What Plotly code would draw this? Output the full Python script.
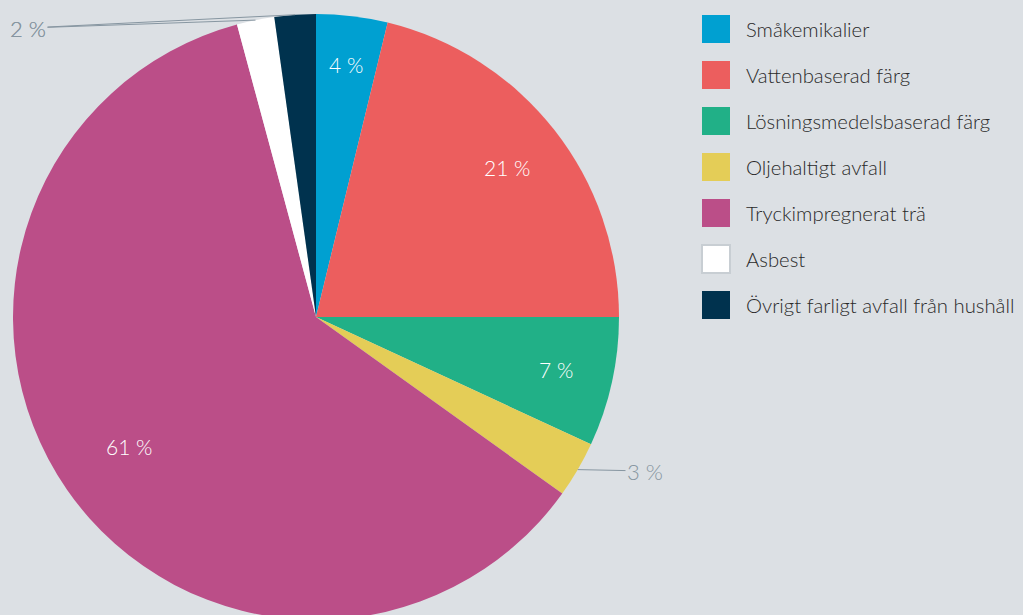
import math
import plotly.graph_objects as go

labels = ["Småkemikalier", "Vattenbaserad färg", "Lösningsmedelsbaserad färg",
          "Oljehaltigt avfall", "Tryckimpregnerat trä", "Asbest",
          "Övrigt farligt avfall från hushåll"]
values = [3.8, 21.2, 6.9, 3.0, 60.9, 2.0, 2.2]
value_labels = ["4 %", "21 %", "7 %", "3 %", "61 %", "2 %", "2 %"]
inside = [True, True, True, False, True, False, False]
colors = ["#00a0d1", "#ec5e5e", "#21b087", "#e4cd57", "#bb4e88", "#ffffff", "#00324e"]

W, H = 1023, 625   # a little taller than the window: pie is cropped at bottom
BG = "#dce0e4"
FONT = "Lato"

# pie geometry in pixels
CX, CY, R = 316, 317, 303
dom_x = [(CX - R) / W, (CX + R) / W]
dom_y = [1 - (CY + R) / H, 1 - (CY - R) / H]

fig = go.Figure()
fig.add_trace(go.Pie(
    labels=labels, values=values, sort=False, direction="clockwise",
    marker=dict(colors=colors, line=dict(width=0)),
    textinfo="none",
    hoverinfo="label+percent", showlegend=False,
    domain=dict(x=dom_x, y=dom_y),
))

total = sum(values)
# radial placement (fraction of radius) of inside labels
inside_frac = [0.84, 0.80, 0.81, 0, 0.75, 0, 0]
label_pos = {3: (645, 471), 5: (28, 28), 6: (28, 28)}
annotations = []
cum = 0
for k, v in enumerate(values):
    mid = (cum + v / 2) / total * 2 * math.pi
    cum += v
    if inside[k]:
        f = inside_frac[k]
        px = CX + f * R * math.sin(mid)
        py = CY - f * R * math.cos(mid)
        annotations.append(dict(
            x=px / W, y=1 - py / H, xref="paper", yref="paper",
            xanchor="center", yanchor="middle",
            showarrow=False, text=value_labels[k],
            font=dict(family=FONT, size=21, color="white", weight=300),
        ))
        continue
    px = CX + R * math.sin(mid)
    py = CY - R * math.cos(mid)
    tx, ty = label_pos[k]
    annotations.append(dict(
        x=px / W, y=1 - py / H, xref="paper", yref="paper",
        ax=tx - px, ay=ty - py,
        text=value_labels[k], showarrow=True, arrowhead=0, arrowwidth=1,
        arrowcolor="#8796a1", standoff=0, startstandoff=0,
        font=dict(family=FONT, size=22, color="#8796a1", weight=300),
    ))

# manual legend
shapes = []
for k, (lab, col) in enumerate(zip(labels, colors)):
    yc = 29 + 46 * k
    white = col == "#ffffff"
    shapes.append(dict(
        type="rect", xref="paper", yref="paper",
        x0=702 / W, x1=730 / W, y0=1 - (yc - 14) / H, y1=1 - (yc + 14) / H,
        fillcolor=col, line=dict(color="#c8ced3" if white else col, width=2 if white else 0),
    ))
    annotations.append(dict(
        x=744 / W, y=1 - yc / H, xref="paper", yref="paper",
        xanchor="left", yanchor="middle", showarrow=False, text=lab,
        font=dict(family=FONT, size=20.3, color="#2a2a2a", weight=300),
    ))

fig.update_layout(
    width=W, height=H, margin=dict(l=0, r=0, t=0, b=0),
    paper_bgcolor=BG, plot_bgcolor=BG,
    annotations=annotations, shapes=shapes,
)
fig.write_html(
    "out.html",
    config={"displayModeBar": False},
    post_script="document.body.style.margin='0';"
                "document.body.style.overflow='hidden';"
                "document.documentElement.style.overflow='hidden';",
)
